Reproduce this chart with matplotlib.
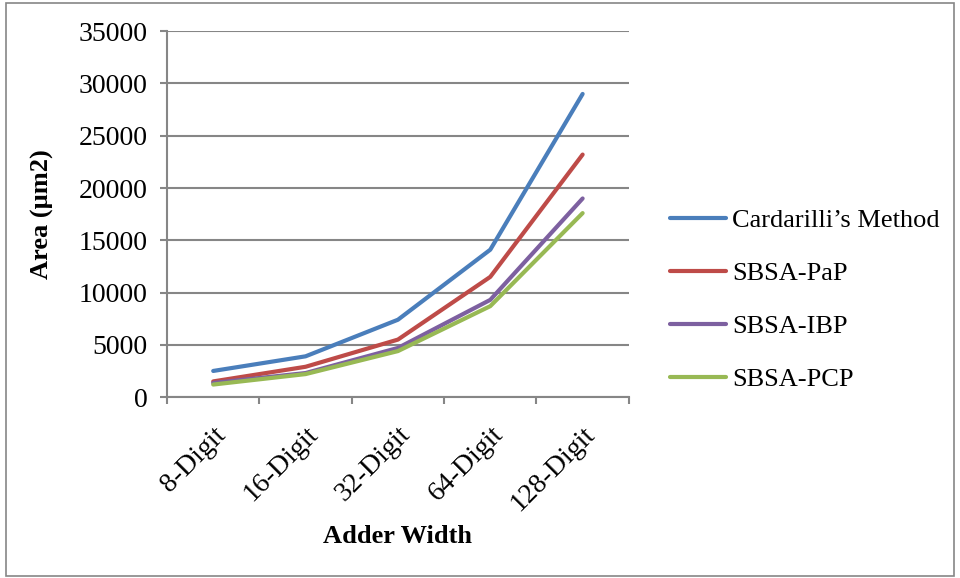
import numpy as np
import matplotlib.pyplot as plt
from matplotlib.patches import Rectangle

plt.rcParams['font.family'] = ['Liberation Serif', 'DejaVu Serif']

categories = ["8-Digit", "16-Digit", "32-Digit", "64-Digit", "128-Digit"]
cardarilli = [2500, 3900, 7400, 14100, 29000]
sbsa_pap = [1500, 2900, 5500, 11500, 23200]
sbsa_ibp = [1350, 2300, 4700, 9300, 19000]
sbsa_pcp = [1200, 2200, 4400, 8700, 17600]

series = [
    ("Cardarilli\u2019s Method", cardarilli, "#4a7ebb"),
    ("SBSA-PaP", sbsa_pap, "#be4b48"),
    ("SBSA-IBP", sbsa_ibp, "#7d60a0"),
    ("SBSA-PCP", sbsa_pcp, "#98b954"),
]

fig = plt.figure(figsize=(9.6, 5.78), dpi=100)
ax = fig.add_axes([0.174, 0.313, 0.481, 0.633])

x = np.arange(len(categories))
for name, vals, col in series:
    ax.plot(x, vals, color=col, lw=3, label=name, solid_capstyle='round')

ax.set_xlim(-0.5, len(categories) - 0.5)
ax.set_ylim(0, 35000)
ax.set_yticks(np.arange(0, 35001, 5000))
ax.yaxis.grid(True, color="#868686", lw=1.5)
ax.set_axisbelow(True)

ax.set_xticks(x)
ax.set_xticklabels(categories, rotation=45, ha='right', rotation_mode='anchor')
ax.set_xticks(np.arange(-0.5, len(categories), 1), minor=True)
ax.tick_params(axis='x', which='major', length=0, labelsize=20, pad=18)
ax.tick_params(axis='x', which='minor', length=5, width=1.5, color="#868686")
ax.tick_params(axis='y', length=5, width=1.5, color="#868686", labelsize=20, pad=9)

for s in ['top', 'right']:
    ax.spines[s].set_visible(False)
for s in ['left', 'bottom']:
    ax.spines[s].set_color("#868686")
    ax.spines[s].set_linewidth(1.5)

ax.set_ylabel("Area (\u00b5m2)", fontsize=19, fontweight='bold', labelpad=18)
ax.set_xlabel("Adder Width", fontsize=19, fontweight='bold', labelpad=6)

ax.legend(loc='center left', bbox_to_anchor=(1.067, 0.265), frameon=False,
          borderaxespad=0, fontsize=19, handlelength=2.1, labelspacing=1.12,
          handletextpad=0.25)

fig.patches.append(Rectangle((0.006, 0.004), 0.988, 0.99, transform=fig.transFigure,
                             fill=False, edgecolor="#868686", lw=1.2))

fig.savefig("out.png", dpi=100)
